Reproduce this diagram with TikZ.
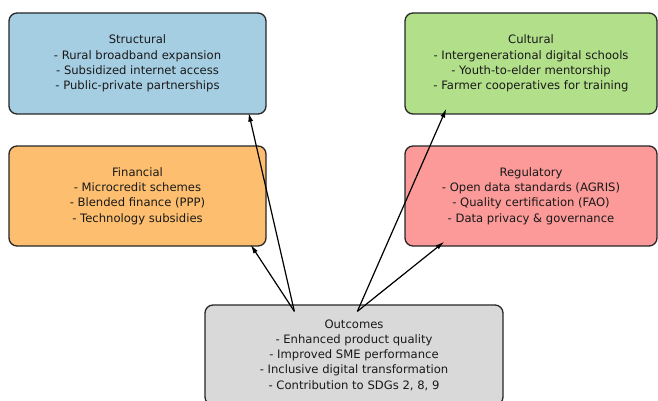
\documentclass[tikz,border=0pt]{standalone}
\usepackage{fontspec}
\setmainfont{DejaVu Sans}
\usetikzlibrary{arrows.meta}
\definecolor{strblue}{HTML}{A6CEE3}
\definecolor{culgreen}{HTML}{B2DF8A}
\definecolor{finorange}{HTML}{FDBF6F}
\definecolor{regred}{HTML}{FB9A99}
\definecolor{outgray}{HTML}{D9D9D9}
\begin{document}
\begin{tikzpicture}[x=1pt,y=-1pt,
  box/.style={draw=black!85,line width=1.3pt,rounded corners=8pt,align=center,
    font=\fontsize{11.6}{15.2}\selectfont,text=black!90,inner sep=0pt},
  link/.style={-{Latex[length=9pt,width=5pt]},line width=1.2pt}]
  \useasboundingbox (0,0) rectangle (658,401);
  % Draw boxes
  \node (str) [box,fill=strblue,minimum width=257pt,minimum height=101pt] at (137.5,63.5)
        {Structural\\- Rural broadband expansion\\- Subsidized internet access\\- Public-private partnerships};
  \node (cul) [box,fill=culgreen,minimum width=252pt,minimum height=101pt] at (531,63.5)
        {Cultural\\- Intergenerational digital schools\\- Youth-to-elder mentorship\\- Farmer cooperatives for training};
  \node (fin) [box,fill=finorange,minimum width=257pt,minimum height=100pt] at (137.5,196)
        {Financial\\- Microcredit schemes\\- Blended finance (PPP)\\- Technology subsidies};
  \node (reg) [box,fill=regred,minimum width=252pt,minimum height=100pt] at (531,196)
        {Regulatory\\- Open data standards (AGRIS)\\- Quality certification (FAO)\\- Data privacy \& governance};
  \node (out) [box,fill=outgray,minimum width=298pt,minimum height=100pt] at (354,355)
        {Outcomes\\- Enhanced product quality\\- Improved SME performance\\- Inclusive digital transformation\\- Contribution to SDGs 2, 8, 9};
  % Draw links
  \coordinate (outl) at ([shift={(90,7)}]out.north west);
  \coordinate (outr) at ([shift={(153,7)}]out.north west);
  \draw[link] (outl) -- ([shift={(-18,-2)}]str.south east);
  \draw[link] (outl) -- ([shift={(-16,-2)}]fin.south east);
  \draw[link] (outr) -- ([shift={(42,-6)}]cul.south west);
  \draw[link] (outr) -- ([shift={(40,-5)}]reg.south west);
\end{tikzpicture}
\end{document}
